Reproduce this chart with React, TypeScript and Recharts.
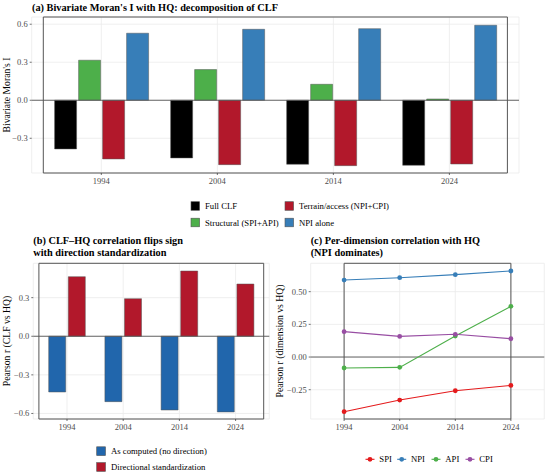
import React from 'react';
import {
  BarChart,
  Bar,
  LineChart,
  Line,
  XAxis,
  YAxis,
  CartesianGrid,
  ReferenceLine,
  ReferenceArea,
  Legend,
} from 'recharts';

const FONT = '"Liberation Serif", "Times New Roman", serif';

// ---------- data ----------
const years = ['1994', '2004', '2014', '2024'];

// panel (a) bivariate Moran's I
const fullCLF = [-0.384, -0.455, -0.505, -0.513];
const structural = [0.316, 0.242, 0.126, 0.01];
const terrain = [-0.463, -0.508, -0.516, -0.503];
const npiAlone = [0.529, 0.56, 0.565, 0.592];

// panel (b) Pearson r CLF vs HQ
const asComputed = [-0.433, -0.508, -0.573, -0.588];
const directional = [0.463, 0.292, 0.507, 0.406];

// panel (c) per-dimension correlation
const spi = [-0.418, -0.329, -0.258, -0.217];
const npi = [0.589, 0.607, 0.63, 0.658];
const api = [-0.084, -0.079, 0.161, 0.388];
const cpi = [0.194, 0.158, 0.174, 0.14];

const ticksA = [-0.3, 0, 0.3, 0.6];
const ticksB = [-0.6, -0.3, 0, 0.3];
const ticksC = [-0.25, 0, 0.25, 0.5];

const domainA: [number, number] = [-0.574, 0.657];
const domainB: [number, number] = [-0.643, 0.567];
const domainC: [number, number] = [-0.474, 0.717];

const seriesA = [
  { key: 'full', name: 'Full CLF', color: '#000000' },
  { key: 'structural', name: 'Structural (SPI+API)', color: '#4DAF4A' },
  { key: 'terrain', name: 'Terrain/access (NPI+CPI)', color: '#B2182B' },
  { key: 'npi', name: 'NPI alone', color: '#377EB8' },
];
const seriesB = [
  { key: 'computed', name: 'As computed (no direction)', color: '#2166AC' },
  { key: 'directional', name: 'Directional standardization', color: '#B2182B' },
];
const seriesC = [
  { key: 'SPI', name: 'SPI', color: '#E41A1C' },
  { key: 'NPI', name: 'NPI', color: '#377EB8' },
  { key: 'API', name: 'API', color: '#4DAF4A' },
  { key: 'CPI', name: 'CPI', color: '#984EA3' },
];

const rowsA = years.map((y, i) => ({
  year: y,
  full: fullCLF[i],
  structural: structural[i],
  terrain: terrain[i],
  npi: npiAlone[i],
}));
const rowsB = years.map((y, i) => ({ year: y, computed: asComputed[i], directional: directional[i] }));
const rowsC = years.map((y, i) => ({ year: y, SPI: spi[i], NPI: npi[i], API: api[i], CPI: cpi[i] }));

// ---------- styles ----------
const tickStyle = { fontSize: 8.5, fill: '#4D4D4D', fontFamily: FONT };
const tickLineStyle = { stroke: '#333333', strokeWidth: 0.7 };
const gridColor = '#EBEBEB';
const borderColor = '#555555';
const barOutline = '#555555';

const fmt = (d: number) => (v: number) => v.toFixed(d).replace('-', '\u2212');

// ---------- legends ----------
const LegendA = () => {
  // ggplot fills the 2x2 legend column by column
  const pos = [
    [191, 206],
    [191, 222.5],
    [285, 206],
    [285, 222.5],
  ];
  return (
    <svg width={550} height={230} style={{ display: 'block' }}>
      {seriesA.map((it, i) => {
        const [x, y] = pos[i];
        return (
          <g key={it.key}>
            <rect x={x} y={y - 4.3} width={8.6} height={8.6} fill={it.color} stroke={barOutline} strokeWidth={0.6} />
            <text x={x + 14} y={y + 3} fontSize={8.7} fontFamily={FONT} fill="#000">
              {it.name}
            </text>
          </g>
        );
      })}
    </svg>
  );
};

const LegendB = () => {
  const rows = [221.2, 237];
  return (
    <svg width={275} height={244} style={{ display: 'block' }}>
      {seriesB.map((it, i) => (
        <g key={it.key}>
          <rect x={96.7} y={rows[i] - 4.4} width={8.8} height={8.8} fill={it.color} stroke={barOutline} strokeWidth={0.6} />
          <text x={111} y={rows[i] + 3} fontSize={8.7} fontFamily={FONT} fill="#000">
            {it.name}
          </text>
        </g>
      ))}
    </svg>
  );
};

const LegendC = () => {
  const dots = [95, 126.7, 161, 195];
  const y = 229.3;
  return (
    <svg width={275} height={244} style={{ display: 'block' }}>
      {seriesC.map((it, i) => (
        <g key={it.key}>
          <line x1={dots[i] - 4.5} x2={dots[i] + 4.5} y1={y} y2={y} stroke={it.color} strokeWidth={1.1} />
          <circle cx={dots[i]} cy={y} r={2.4} fill={it.color} />
          <text x={dots[i] + 9.3} y={y + 3} fontSize={8.7} fontFamily={FONT} fill="#000">
            {it.name}
          </text>
        </g>
      ))}
    </svg>
  );
};

const legendWrap = (w: number, h: number) => ({
  position: 'absolute' as const,
  left: 0,
  top: 0,
  width: w,
  height: h,
  pointerEvents: 'none' as const,
});

// ---------- panels ----------
const PanelA = () => (
  <BarChart
    width={550}
    height={230}
    data={rowsA}
    margin={{ top: 17, right: 31, left: 0, bottom: 0 }}
    barCategoryGap={11.3}
    barGap={2}
  >
    <CartesianGrid stroke={gridColor} strokeWidth={0.8} />
    <XAxis
      dataKey="year"
      height={57}
      padding={{ left: 11.6, right: 11.6 }}
      axisLine={false}
      tickLine={tickLineStyle}
      tickSize={2}
      tickMargin={3}
      tick={tickStyle}
      interval={0}
    />
    <YAxis
      type="number"
      domain={domainA}
      ticks={ticksA}
      allowDataOverflow
      width={31.7}
      axisLine={false}
      tickLine={tickLineStyle}
      tickSize={2}
      tickMargin={2}
      tick={tickStyle}
      tickFormatter={fmt(1)}
    />
    <ReferenceLine y={0} stroke="#555555" strokeWidth={0.9} />
    {seriesA.map((s) => (
      <Bar
        key={s.key}
        dataKey={s.key}
        name={s.name}
        fill={s.color}
        stroke={barOutline}
        strokeWidth={0.5}
        isAnimationActive={false}
      />
    ))}
    <ReferenceArea y1={domainA[0]} y2={domainA[1]} fill="none" stroke={borderColor} strokeWidth={1} ifOverflow="visible" />
    <Legend layout="horizontal" verticalAlign="middle" align="center" content={LegendA} wrapperStyle={legendWrap(550, 230)} />
  </BarChart>
);

const PanelB = () => (
  <BarChart
    width={275}
    height={244}
    data={rowsB}
    margin={{ top: 33.3, right: 5.7, left: 0, bottom: 0 }}
    barCategoryGap={9.8}
    barGap={2.6}
  >
    <CartesianGrid stroke={gridColor} strokeWidth={0.8} />
    <XAxis
      dataKey="year"
      height={55}
      padding={{ left: 5.6, right: 5.6 }}
      axisLine={false}
      tickLine={tickLineStyle}
      tickSize={2}
      tickMargin={3}
      tick={tickStyle}
      interval={0}
    />
    <YAxis
      type="number"
      domain={domainB}
      ticks={ticksB}
      allowDataOverflow
      width={33.3}
      axisLine={false}
      tickLine={tickLineStyle}
      tickSize={2}
      tickMargin={2}
      tick={tickStyle}
      tickFormatter={fmt(1)}
    />
    <ReferenceLine y={0} stroke="#555555" strokeWidth={0.9} />
    {seriesB.map((s) => (
      <Bar
        key={s.key}
        dataKey={s.key}
        name={s.name}
        fill={s.color}
        stroke={barOutline}
        strokeWidth={0.5}
        isAnimationActive={false}
      />
    ))}
    <ReferenceArea y1={domainB[0]} y2={domainB[1]} fill="none" stroke={borderColor} strokeWidth={1} ifOverflow="visible" />
    <Legend layout="horizontal" verticalAlign="middle" align="center" content={LegendB} wrapperStyle={legendWrap(275, 244)} />
  </BarChart>
);

const PanelC = () => (
  <LineChart width={275} height={244} data={rowsC} margin={{ top: 33.3, right: 5.7, left: 0, bottom: 0 }}>
    <CartesianGrid stroke={gridColor} strokeWidth={0.8} />
    <XAxis
      dataKey="year"
      scale="point"
      height={55}
      padding={{ left: 33.4, right: 33.4 }}
      axisLine={false}
      tickLine={tickLineStyle}
      tickSize={2}
      tickMargin={3}
      tick={tickStyle}
      interval={0}
    />
    <YAxis
      type="number"
      domain={domainC}
      ticks={ticksC}
      allowDataOverflow
      width={35.7}
      axisLine={false}
      tickLine={tickLineStyle}
      tickSize={2}
      tickMargin={2}
      tick={tickStyle}
      tickFormatter={fmt(2)}
    />
    <ReferenceLine y={0} stroke="#555555" strokeWidth={0.9} />
    {seriesC.map((s) => (
      <Line
        key={s.key}
        dataKey={s.key}
        name={s.name}
        stroke={s.color}
        strokeWidth={1.1}
        dot={{ r: 2.4, fill: s.color, stroke: s.color, strokeWidth: 0 }}
        activeDot={false}
        isAnimationActive={false}
      />
    ))}
    <ReferenceArea y1={domainC[0]} y2={domainC[1]} fill="none" stroke={borderColor} strokeWidth={1} ifOverflow="visible" />
    <Legend layout="horizontal" verticalAlign="middle" align="center" content={LegendC} wrapperStyle={legendWrap(275, 244)} />
  </LineChart>
);

const titleStyle = { fontFamily: FONT, fontWeight: 700, fontSize: 10.3, fill: '#000' };
const axisTitleStyle = { fontFamily: FONT, fontSize: 9.7, fill: '#000' };

export default function App() {
  return (
    <div style={{ position: 'absolute', left: 0, top: 0, width: 550, height: 474, background: '#fff' }}>
      <div style={{ position: 'absolute', left: 0, top: 0 }}>
        <PanelA />
      </div>
      <div style={{ position: 'absolute', left: 0, top: 230 }}>
        <PanelB />
      </div>
      <div style={{ position: 'absolute', left: 275, top: 230 }}>
        <PanelC />
      </div>
      <svg width={550} height={474} style={{ position: 'absolute', left: 0, top: 0, pointerEvents: 'none' }}>
        <text x={32} y={10.5} {...titleStyle}>
          (a) Bivariate Moran's I with HQ: decomposition of CLF
        </text>
        <text x={33.3} y={244.3} {...titleStyle}>
          (b) CLF–HQ correlation flips sign
        </text>
        <text x={33.3} y={255.7} {...titleStyle}>
          with direction standardization
        </text>
        <text x={310.7} y={244.3} {...titleStyle}>
          (c) Per-dimension correlation with HQ
        </text>
        <text x={310.7} y={255.7} {...titleStyle}>
          (NPI dominates)
        </text>
        <text transform="translate(10,95) rotate(-90)" textAnchor="middle" {...axisTitleStyle}>
          Bivariate Moran's I
        </text>
        <text transform="translate(10,341) rotate(-90)" textAnchor="middle" {...axisTitleStyle}>
          Pearson r (CLF vs HQ)
        </text>
        <text transform="translate(283,341) rotate(-90)" textAnchor="middle" {...axisTitleStyle}>
          Pearson r (dimension vs HQ)
        </text>
      </svg>
    </div>
  );
}
